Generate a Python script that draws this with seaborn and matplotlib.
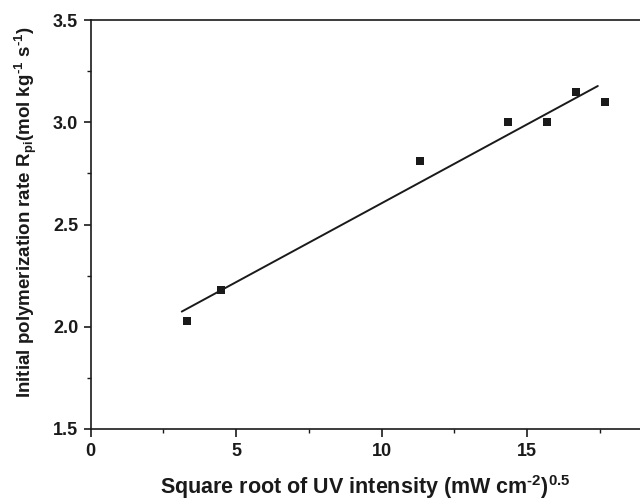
import numpy as np
import pandas as pd
import matplotlib
matplotlib.use("Agg")
import matplotlib.pyplot as plt
import seaborn as sns
from matplotlib.ticker import MultipleLocator

# Square root of UV intensity (mW cm^-2)^0.5 and initial polymerization rate (mol kg^-1 s^-1)
sqrt_intensity = [3.32, 4.47, 11.32, 14.33, 15.68, 16.68, 17.67]
rate = [2.03, 2.18, 2.81, 3.00, 3.00, 3.15, 3.10]

# x-range over which the fitted line is drawn
fit_range = [3.13, 17.43]

sns.set_theme(style="ticks")
plt.rcParams["font.family"] = ["Liberation Sans", "DejaVu Sans"]
plt.rcParams["font.weight"] = "bold"
plt.rcParams["mathtext.fontset"] = "custom"
plt.rcParams["mathtext.rm"] = "Liberation Sans:bold"
plt.rcParams["mathtext.it"] = "Liberation Sans:bold"
plt.rcParams["mathtext.bf"] = "Liberation Sans:bold"
plt.rcParams["mathtext.default"] = "rm"

df = pd.DataFrame({"x": sqrt_intensity, "y": rate})
slope, intercept = np.polyfit(df["x"], df["y"], 1)
fit_x = np.array(fit_range)
fit_df = pd.DataFrame({"x": fit_x, "y": slope * fit_x + intercept})

fig = plt.figure(figsize=(6.4, 5.04), dpi=100)
ax = fig.add_axes([0.1417, 0.149, 0.8583, 0.811])

ink = "#1a1a1a"
sns.lineplot(data=fit_df, x="x", y="y", ax=ax, color=ink, linewidth=1.4)
sns.scatterplot(data=df, x="x", y="y", ax=ax, marker="s", s=36,
                color=ink, edgecolor=ink, linewidth=0, zorder=3)

ax.set_xlim(0, 18.88)
ax.set_ylim(1.5, 3.5)
ax.xaxis.set_major_locator(MultipleLocator(5))
ax.xaxis.set_minor_locator(MultipleLocator(2.5))
ax.yaxis.set_major_locator(MultipleLocator(0.5))
ax.yaxis.set_minor_locator(MultipleLocator(0.25))
ax.set_yticklabels([f"{v:.1f}" for v in ax.get_yticks()])

for side in ["left", "bottom", "top"]:
    ax.spines[side].set_color(ink)
    ax.spines[side].set_linewidth(1.2)
ax.spines["right"].set_visible(False)

ax.tick_params(axis="both", which="major", direction="out", width=1.2,
               colors=ink, labelsize=13)
ax.tick_params(axis="x", which="major", length=6, pad=4.5)
ax.tick_params(axis="y", which="major", length=5, pad=4)
ax.tick_params(axis="both", which="minor", direction="out", length=3.2, width=1.0,
               colors=ink)
for lab in ax.get_xticklabels() + ax.get_yticklabels():
    lab.set_fontweight("bold")

hy = "\u2010"
ax.set_xlabel(r"Square root of UV intensity (mW cm$^{" + hy + r"2}$)$^{0.5}$",
              fontsize=15.5, fontweight="bold", color=ink, labelpad=9)
ax.set_ylabel(r"Initial polymerization rate R$_{pi}$(mol kg$^{" + hy + r"1}$ s$^{" + hy + r"1}$)",
              fontsize=13.5, fontweight="bold", color=ink)
ax.yaxis.set_label_coords(-0.095, 0.53)

fig.savefig("out.png", dpi=100)
